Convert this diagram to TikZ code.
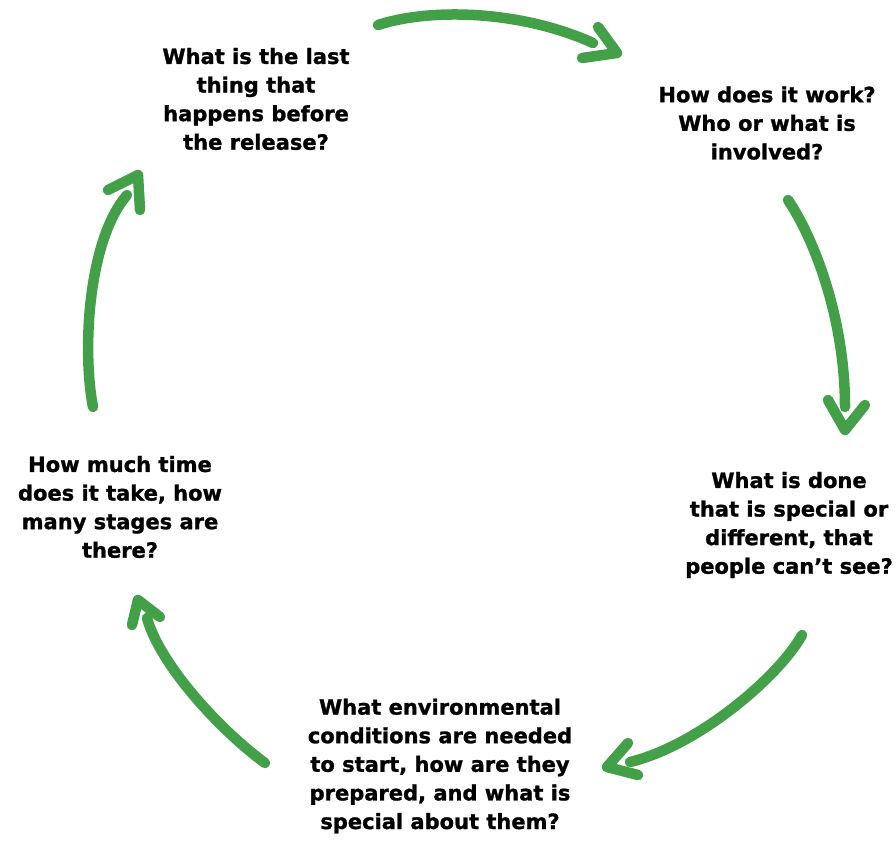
\documentclass[tikz,border=0pt]{standalone}
\usepackage{fontspec}
\setmainfont{DejaVu Sans}[BoldFeatures={FakeBold=1.2}]
\definecolor{arrowgreen}{RGB}{68,160,72}
\begin{document}
\begin{tikzpicture}[x=1pt,y=-1pt,
  q/.style={align=center,font=\bfseries\fontsize{21}{28.6}\selectfont,inner sep=0pt},
  shaft/.style={draw=arrowgreen,line width=10.5pt,line cap=round},
  head/.style={draw=arrowgreen,line width=10.5pt,line cap=round,line join=round}]
\useasboundingbox (0,0) rectangle (896,840);
% questions
\node[q] (q1) at (256,99) {What is the last\\thing that\\happens before\\the release?};
\node[q] (q2) at (767,123) {How does it work?\\Who or what is\\involved?};
\node[q] (q3) at (789,525) {What is done\\that is special or\\different, that\\people can’t see?};
\node[q] (q4) at (440,766) {What environmental\\conditions are needed\\to start, how are they\\prepared, and what is\\special about them?};
\node[q] (q5) at (120,507) {How much time\\does it take, how\\many stages are\\there?};
% arrow 1 (top)
\coordinate (a1s) at (378,25); \coordinate (a1e) at (593,43); \coordinate (a1t) at (617,53);
\draw[shaft] (a1s) .. controls (430,8) and (520,10) .. (a1e);
\draw[head] (598,27) -- (a1t) -- (582,58);
% arrow 2 (right)
\coordinate (a2s) at (788,200); \coordinate (a2e) at (845,407); \coordinate (a2t) at (845,430);
\draw[shaft] (a2s) .. controls (815,240) and (845,320) .. (a2e);
\draw[head] (828,400) -- (a2t) -- (865,405);
% arrow 3 (bottom right)
\coordinate (a3s) at (802,635); \coordinate (a3e) at (630,762); \coordinate (a3t) at (607,767);
\draw[shaft] (a3s) .. controls (780,675) and (700,745) .. (a3e);
\draw[head] (628,743) -- (a3t) -- (638,775);
% arrow 4 (bottom left)
\coordinate (a4s) at (265,763); \coordinate (a4e) at (147,618); \coordinate (a4t) at (138,600);
\draw[shaft] (a4s) .. controls (220,730) and (160,665) .. (a4e);
\draw[head] (132,625) -- (a4t) -- (160,617);
% arrow 5 (left)
\coordinate (a5s) at (93,407); \coordinate (a5e) at (127,195); \coordinate (a5t) at (138,175);
\draw[shaft] (a5s) .. controls (82,350) and (88,240) .. (a5e);
\draw[head] (108,190) -- (a5t) -- (140,210);
\end{tikzpicture}
\end{document}
